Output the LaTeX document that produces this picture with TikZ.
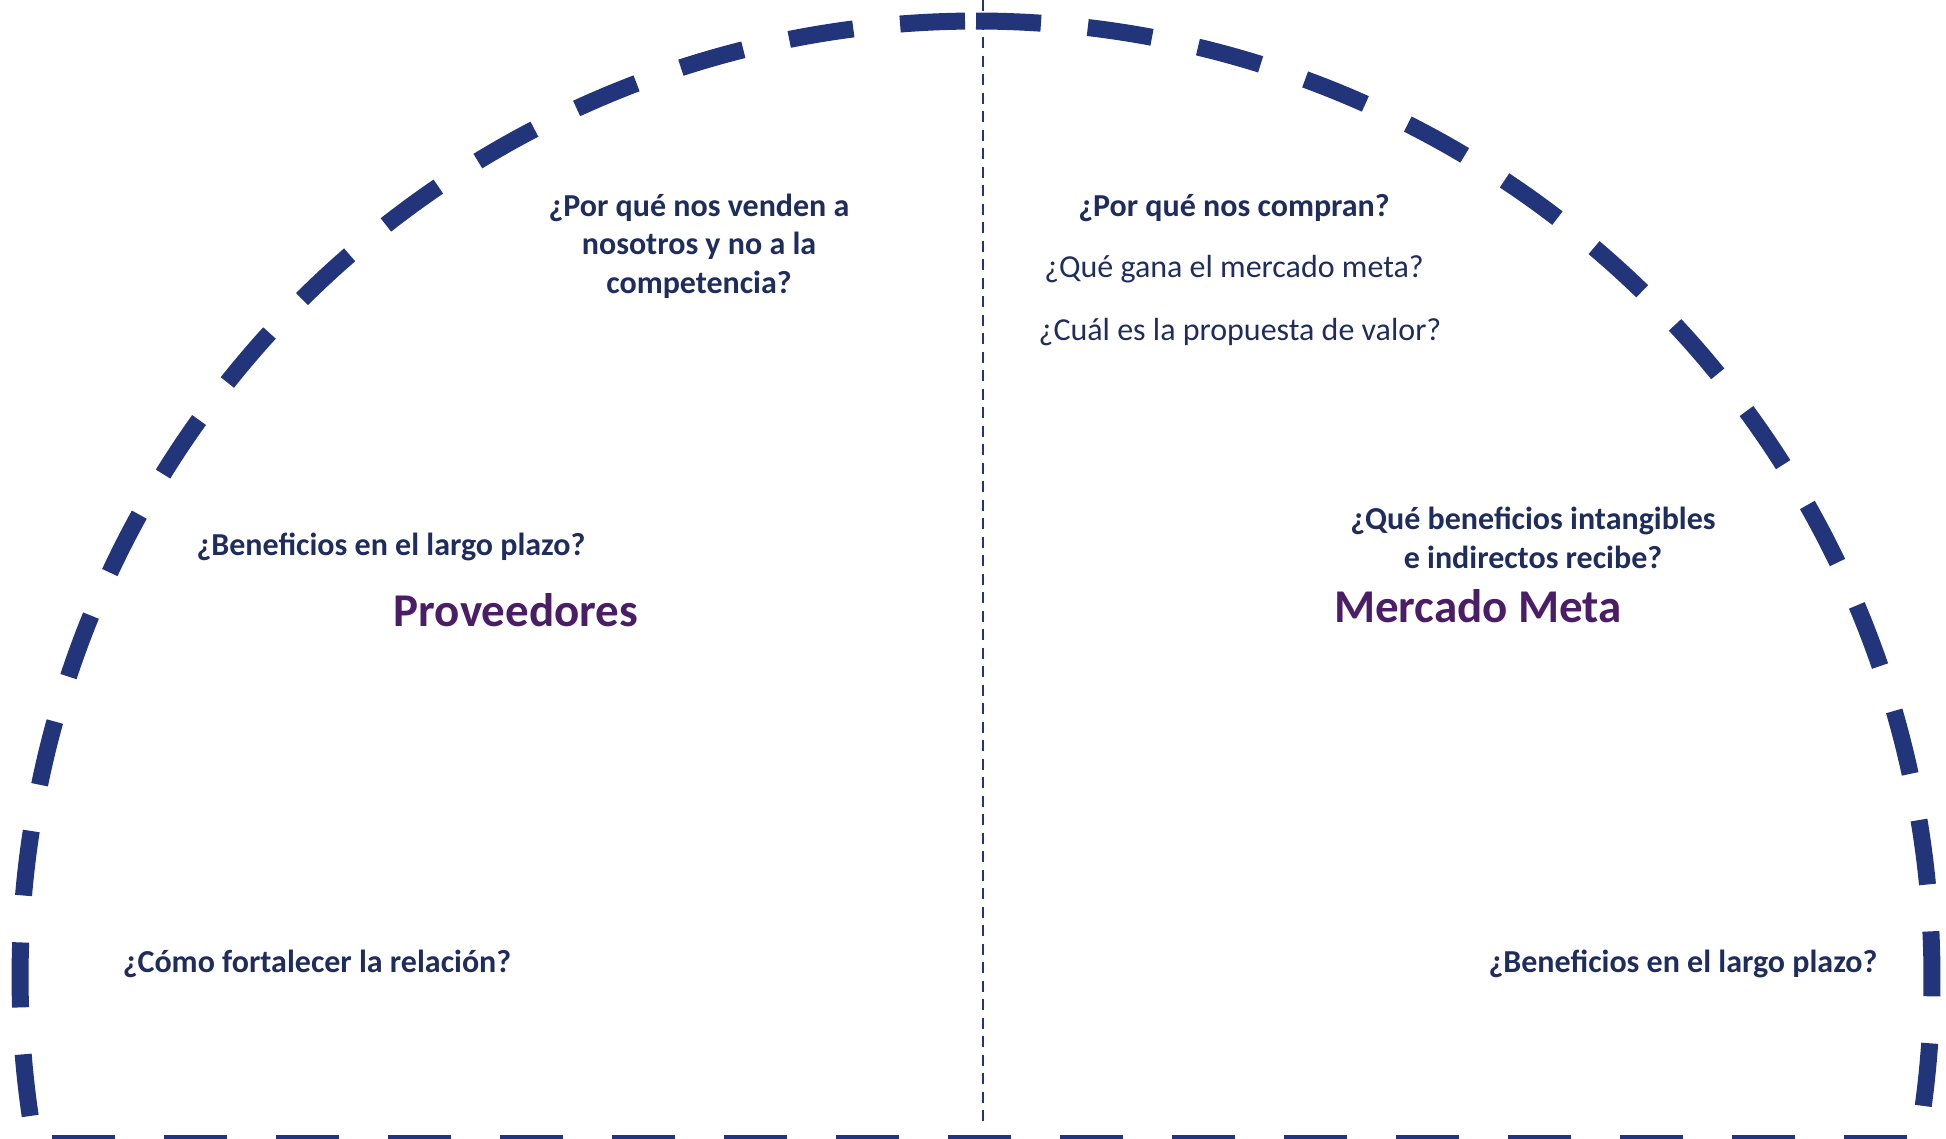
\documentclass[tikz,border=0pt]{standalone}
\usepackage{fontspec}
\setmainfont{Carlito}
\definecolor{arcblue}{HTML}{22357A}
\definecolor{txtblue}{HTML}{1F2D5E}
\definecolor{titlepurple}{HTML}{4A1D66}
\begin{document}
\begin{tikzpicture}[x=1pt,y=-1pt,
  arcline/.style={draw=arcblue,line width=17pt,dash pattern=on 65pt off 47pt},
  floorline/.style={draw=arcblue,line width=17pt,dash pattern=on 63pt off 49pt},
  divider/.style={draw=arcblue,line width=2.2pt,dash pattern=on 11pt off 7.5pt},
  qbold/.style={font=\fontsize{32}{38.5}\selectfont\bfseries,text=txtblue,inner sep=0pt,align=center,anchor=base},
  qreg/.style={font=\fontsize{32}{38.5}\selectfont,text=txtblue,inner sep=0pt,anchor=base},
  titletext/.style={font=\fontsize{47}{56}\selectfont\bfseries,text=titlepurple,inner sep=0pt,anchor=base}
]
\useasboundingbox (0,0) rectangle (1946,1138);
\clip (0,0) rectangle (1946,1138);
\coordinate (ctr) at (976,977);
% dashed half-circle, drawn as two halves from the top
\draw[arcline] (ctr) ++(-90:956) arc[start angle=-90, end angle=7.75, radius=956];
\draw[arcline] (ctr) ++(-90.66:956) arc[start angle=-90.66, end angle=-188.36, radius=956];
% floor line
\coordinate (f1) at (52,1143.5);
\coordinate (f2) at (1907,1143.5);
\draw[floorline] (f1) -- (f2);
% vertical divider
\coordinate (d1) at (983,0);
\coordinate (d2) at (983,1128);
\draw[divider] (d1) -- (d2);
% texts
\node[qbold] (q1) at (699,293) {¿Por qué nos venden a\\nosotros y no a la\\competencia?};
\node[qbold] (q2) at (1234,216) {¿Por qué nos compran?};
\node[qreg] (q3) at (1234,277) {¿Qué gana el mercado meta?};
\node[qreg] (q4) at (1240,340) {¿Cuál es la propuesta de valor?};
\node[qbold] (q5) at (391,555) {¿Beneficios en el largo plazo?};
\node[titletext] (prov) at (516,626) {Proveedores};
\node[qbold] (q6) at (1533,568) {¿Qué beneficios intangibles\\e indirectos recibe?};
\node[titletext] (meta) at (1478,622) {Mercado Meta};
\node[qbold] (q7) at (317,972) {¿Cómo fortalecer la relación?};
\node[qbold] (q8) at (1683,972) {¿Beneficios en el largo plazo?};
\end{tikzpicture}
\end{document}
